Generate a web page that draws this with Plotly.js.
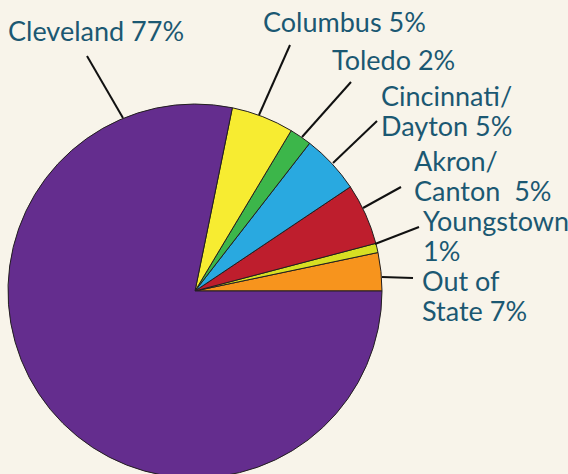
<!DOCTYPE html>
<html><head><meta charset="utf-8">
<script src="https://cdn.plot.ly/plotly-3.0.1.min.js"></script>
<style>html,body{margin:0;padding:0;overflow:hidden;background:#F8F4EA;}</style>
</head><body><div id="chart" style="width:568px;height:482px;"></div>
<script>
// Data (slice shares as drawn, counter-clockwise from 3 o'clock)
const categories = ["Out of State","Youngstown","Akron/Canton","Cincinnati/Dayton","Toledo","Columbus","Cleveland"];
const shares = [3.3, 0.8, 5.3, 5.1, 1.9, 5.4, 78.2];
const labelTexts = ["Out of<br>State 7%","Youngstown<br>1%","Akron/<br>Canton\u00a0\u00a05%","Cincinnati/<br>Dayton 5%","Toledo 2%","Columbus 5%","Cleveland 77%"];
const sliceColors = ["#F7941D","#D7DF23","#BE1E2D","#29A9E0","#3CB64A","#F7EC31","#642D8E"];

const W = 568, H = 482;
const FS = 27;
const LINE = 30;
const TXT = "#1B5872";
// layout positions (pixels): label left / first baseline
const labelPos = [[422,292],[423,232],[414,172],[381,107],[332,71],[263,33],[8,42]];
const leaderPos = [[413,278,382,277],[419,227,375,244],[401,187,363,208],[377,121,333,163],[351,82,302,137],[290,45,259,115],[87,56,123,118]];

const px = x => x / W, py = y => 1 - y / H;

const annotations = [];
labelTexts.forEach((t, i) => {
  t.split("<br>").forEach((line, j) => {
    annotations.push({
      text: line, xref: "paper", yref: "paper",
      x: px(labelPos[i][0] - 1), y: py(labelPos[i][1] + j * LINE - FS * 1.07),
      xanchor: "left", yanchor: "top", align: "left", showarrow: false,
      borderpad: 0,
      font: {family: "Lato, sans-serif", size: FS, color: TXT}
    });
  });
});
const shapes = leaderPos.map(p => ({
  type: "line", xref: "paper", yref: "paper",
  x0: px(p[0]), y0: py(p[1]), x1: px(p[2]), y1: py(p[3]),
  line: {color: "#111", width: 2}
}));

const total = shares.reduce((a, b) => a + b, 0);
const trace = {
  type: "pie", labels: categories, values: shares, sort: false,
  direction: "counterclockwise", rotation: 90 - shares[0] / total * 360,
  marker: {colors: sliceColors, line: {color: "#231F20", width: 1}},
  textinfo: "none", hoverinfo: "label+percent",
  domain: {x: [px(8), px(382)], y: [py(478), py(104)]}
};

Plotly.newPlot("chart", [trace], {
  width: W, height: H, margin: {l:0, r:0, t:0, b:0},
  paper_bgcolor: "#F8F4EA", plot_bgcolor: "#F8F4EA",
  showlegend: false, annotations, shapes
}, {displayModeBar: false, staticPlot: true});
</script></body></html>
